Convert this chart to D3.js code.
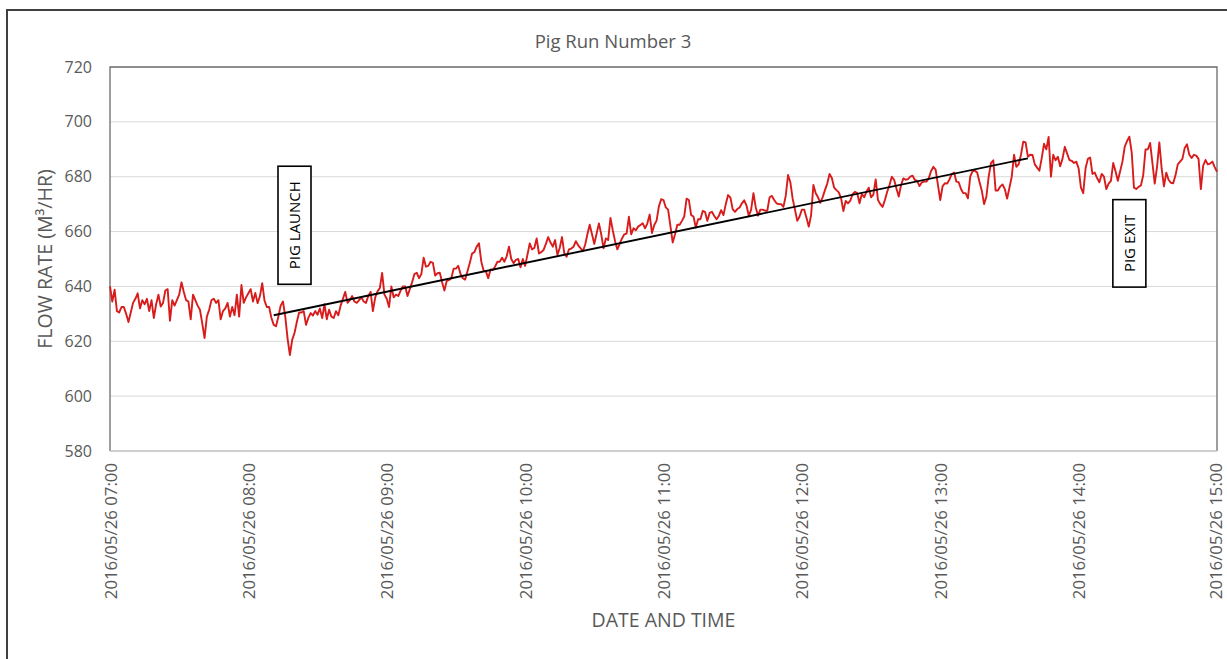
<!DOCTYPE html>
<html>
<head>
<meta charset="utf-8">
<script src="https://cdn.jsdelivr.net/npm/d3@7"></script>
<style>
  html, body { margin: 0; padding: 0; background: #ffffff; }
  svg { display: block; font-family: "Open Sans", "Liberation Sans", sans-serif; }
</style>
</head>
<body>
<svg id="chart" width="1227" height="659"></svg>
<script>
// ---- Chart data ----
const chartTitle = "Pig Run Number 3";
const xAxisTitle = "DATE AND TIME";
const yAxisTitle = "FLOW RATE (M³/HR)";

const startTime = "2016/05/26 07:00";
const endTime = "2016/05/26 15:00";
const sampleStepMinutes = 1;

const yTickValues = [580, 600, 620, 640, 660, 680, 700, 720];

// Flow rate (m³/hr), one reading per minute from 07:00 to 15:00
const flowRate = [
  640, 634.5, 638.8, 631, 630.5, 632.5, 632.5, 630, 627, 630.5,
  634, 635.5, 637.5, 632, 635, 633.5, 635.5, 631, 635, 628.5,
  633.5, 637, 632.7, 634, 638.5, 639, 627.5, 635, 633, 635,
  637, 641.5, 638, 635, 634.5, 628, 637, 635, 633, 631.5,
  626.5, 621.2, 629, 631.5, 635, 635.5, 634, 635, 628, 631,
  632, 634, 629, 632.5, 629.5, 637, 629, 640.5, 634, 636,
  637.5, 639, 634.5, 637.6, 633.9, 636.4, 641.2, 634.8, 632.5, 632.5,
  628.5, 626, 625.5, 629, 633, 634.5, 629, 621, 615, 620.5,
  623, 627, 630.5, 630.5, 631, 626, 628.5, 630.3, 629.4, 631,
  629.7, 632, 628.5, 633.5, 628, 631.5, 629, 628.5, 631, 629.5,
  633, 635.5, 638, 634, 635, 636.5, 634.5, 634, 635, 636,
  634.5, 634, 636.5, 638, 631, 636, 638.2, 639.4, 644.9, 637,
  635.5, 632.5, 640, 636, 637, 636.5, 638.5, 640, 640, 636.5,
  639, 641.5, 644.5, 645, 643, 644.5, 650.5, 647.2, 647.5, 649,
  648.6, 644, 644.8, 645, 641.5, 638.5, 642, 642.3, 643, 646.5,
  646.5, 647.5, 644.5, 643, 642.5, 645.5, 648.5, 652, 652.5, 654.5,
  655.7, 649, 645.8, 645.5, 643, 646.2, 646, 647.3, 649, 649,
  650.5, 649, 651, 654.5, 650, 648.5, 649.7, 650, 647, 650,
  647.5, 651.5, 655.7, 653.5, 654, 657.5, 652, 652.5, 653.3, 655.5,
  658, 656, 654.5, 656.9, 651.5, 654, 658, 652, 650.8, 653.5,
  653.8, 654.5, 656.5, 655, 654, 652.8, 655.1, 659, 662.5, 659,
  655.5, 659.3, 663, 659, 653.9, 657.5, 656.9, 665, 660.5, 656.5,
  653.5, 655.5, 657.5, 659, 659.3, 665.4, 659, 661.2, 660.5, 661.8,
  662.4, 663, 661.2, 663, 666.2, 659.5, 662.4, 664, 669.2, 671.8,
  671.5, 668.8, 668, 662, 656, 659, 662.5, 662.5, 663.9, 665.5,
  672, 671.5, 666, 665.5, 661.5, 664.5, 664.5, 667.5, 667.2, 663.9,
  666.8, 667.2, 665.7, 664.5, 665.7, 667.8, 666, 670, 673.3, 672.4,
  668.2, 667.2, 668.2, 668.8, 670.3, 671.4, 669.5, 665.7, 668, 674,
  668.8, 665.8, 668, 668, 667.6, 667.6, 672.5, 673, 671.5, 670.3,
  670, 670, 669, 673, 680.6, 678, 672, 668, 663.9, 665.5,
  668, 668, 665, 661.8, 666, 677, 674, 672.5, 670.5, 672.5,
  675.1, 677.5, 681, 679.5, 676, 675.1, 674.3, 672.2, 667.5, 671.2,
  670.3, 671.3, 673.6, 674.5, 674, 670.3, 673.7, 672.5, 674.5, 676,
  672.5, 673.5, 679, 671.5, 670, 669, 671.5, 674.5, 677, 680,
  678.9, 675.7, 672.8, 676.9, 679.4, 678.9, 679.1, 680, 680.4, 678.8,
  678.5, 676.6, 677.9, 678.2, 678.2, 679.4, 682, 683.6, 682.6, 677,
  671.5, 676.5, 677.6, 677.5, 679, 681, 681.5, 678.2, 678, 675.5,
  674, 674, 672.1, 680, 682, 682.2, 681.5, 678.2, 675, 670,
  672.7, 680, 685, 686, 675, 675, 676.4, 677.2, 675.5, 672,
  676, 680, 688, 683.6, 684.5, 688, 692.8, 692.5, 687.3, 688,
  687.9, 684.5, 683.3, 682.2, 686.8, 692, 690, 694.5, 680, 688,
  686, 687.3, 683.8, 686.5, 690.9, 688.5, 686.1, 685.8, 685, 685.5,
  683, 676, 674, 683, 686.5, 687, 681, 681.5, 679.5, 678,
  681, 680, 675.5, 677.5, 678.5, 685, 682, 678.5, 682, 685.5,
  691, 693, 694.6, 689, 676, 675.5, 676.3, 676.8, 680.5, 689.9,
  690, 692.3, 685, 677.5, 683.6, 692.5, 683, 676.5, 681.5, 678.9,
  677.8, 677.6, 680.5, 684.5, 685.5, 686.5, 690.5, 691.8, 688, 686.8,
  688, 687.7, 686.5, 675.5, 684, 686.1, 684.5, 684.8, 685.5, 683.5, 681.8
];

// Straight trend line drawn across the pig run
const trendTimes = ["2016/05/26 08:11", "2016/05/26 13:38"];
const trendValues = [629.5, 686.7];

// Event call-outs (anchored at a time and flow level)
const noteLabels = ["PIG LAUNCH", "PIG EXIT"];
const noteTimes = ["2016/05/26 08:20", "2016/05/26 14:22"];
const noteValues = [662.3, 655.7];

// ---- Drawing ----
const parseTime = d3.timeParse("%Y/%m/%d %H:%M");
const formatTick = d3.timeFormat("%Y/%m/%d %H:%M");

const width = 1227, height = 659;
const plot = { left: 110, right: 1217, top: 67, bottom: 451 };
const textColor = "#595959";

const svg = d3.select("#chart");

svg.append("rect")
  .attr("width", width).attr("height", height)
  .attr("fill", "#ffffff");

// chart frame
svg.append("path")
  .attr("d", `M7,${height} V10 H${width}`)
  .attr("fill", "none")
  .attr("stroke", "#404040")
  .attr("stroke-width", 2);

const t0 = parseTime(startTime);
const t1 = parseTime(endTime);

const x = d3.scaleTime().domain([t0, t1]).range([plot.left, plot.right]);
const y = d3.scaleLinear().domain([580, 720]).range([plot.bottom, plot.top]);

const series = flowRate.map((v, i) => ({
  time: d3.timeMinute.offset(t0, i * sampleStepMinutes),
  value: v
}));

// horizontal gridlines
svg.append("g")
  .selectAll("line")
  .data(yTickValues.filter(v => v !== 580 && v !== 720))
  .join("line")
  .attr("x1", plot.left).attr("x2", plot.right)
  .attr("y1", d => y(d)).attr("y2", d => y(d))
  .attr("stroke", "#d9d9d9")
  .attr("stroke-width", 1);

// plot border
svg.append("path")
  .attr("d", `M${plot.left},${plot.bottom} V${plot.top} H${plot.right} V${plot.bottom}`)
  .attr("fill", "none")
  .attr("stroke", "#6b6b6b")
  .attr("stroke-width", 1.3);

svg.append("line")
  .attr("x1", plot.left).attr("x2", plot.right)
  .attr("y1", plot.bottom).attr("y2", plot.bottom)
  .attr("stroke", "#bfbfbf")
  .attr("stroke-width", 1.3);

// y axis labels
const yAxis = svg.append("g")
  .attr("transform", `translate(${plot.left},0)`)
  .call(d3.axisLeft(y).tickValues(yTickValues).tickSize(0).tickPadding(18).tickFormat(d3.format("d")));
yAxis.select(".domain").remove();
yAxis.selectAll("text")
  .attr("fill", textColor)
  .style("font-size", "16px")
  .style("font-family", '"Open Sans", sans-serif');

// x axis labels (vertical)
const xAxis = svg.append("g")
  .attr("transform", `translate(0,${plot.bottom})`)
  .call(d3.axisBottom(x).ticks(d3.timeHour.every(1)).tickSize(0).tickFormat(formatTick));
xAxis.select(".domain").remove();
const xLabels = xAxis.selectAll("text");
const lastIndex = xLabels.size() - 1;
xLabels
  .attr("transform", "rotate(-90)")
  .attr("x", -12)
  // keep the right-most label inside the canvas edge
  .attr("y", (d, i) => (i === lastIndex ? -2 : 0))
  .attr("dy", "0.36em")
  .style("text-anchor", "end")
  .attr("fill", textColor)
  .style("font-size", "16.8px")
  .style("font-family", '"Open Sans", sans-serif');

// flow rate line
const line = d3.line()
  .x(d => x(d.time))
  .y(d => y(d.value));

svg.append("path")
  .datum(series)
  .attr("d", line)
  .attr("fill", "none")
  .attr("stroke", "#d81c1c")
  .attr("stroke-width", 1.9)
  .attr("stroke-linejoin", "round");

// trend line
const trend = trendTimes.map((t, i) => ({ time: parseTime(t), value: trendValues[i] }));
svg.append("path")
  .datum(trend)
  .attr("d", line)
  .attr("fill", "none")
  .attr("stroke", "#000000")
  .attr("stroke-width", 1.9);

// call-out boxes
const notes = svg.append("g")
  .selectAll("g")
  .data(noteLabels.map((label, i) => ({ label, time: parseTime(noteTimes[i]), value: noteValues[i] })))
  .join("g")
  .attr("transform", d => `translate(${x(d.time)},${y(d.value)})`);

notes.each(function (d) {
  const g = d3.select(this);
  const rect = g.append("rect")
    .attr("fill", "#ffffff")
    .attr("stroke", "#000000")
    .attr("stroke-width", 1.6);
  const txt = g.append("text")
    .attr("transform", "rotate(-90)")
    .attr("text-anchor", "middle")
    .attr("dy", "0.36em")
    .attr("fill", "#000000")
    .style("font-size", "15px")
    .text(d.label);
  const len = txt.node().getComputedTextLength();
  const h = len + 30, w = 33;
  rect.attr("x", -w / 2).attr("y", -h / 2).attr("width", w).attr("height", h);
});

// titles
svg.append("text")
  .attr("x", 613).attr("y", 43)
  .attr("text-anchor", "middle")
  .attr("dominant-baseline", "middle")
  .attr("fill", textColor)
  .style("font-size", "18.5px")
  .text(chartTitle);

svg.append("text")
  .attr("transform", `translate(47,${(plot.top + plot.bottom) / 2}) rotate(-90)`)
  .attr("text-anchor", "middle")
  .attr("dominant-baseline", "middle")
  .attr("fill", textColor)
  .style("font-size", "19.6px")
  .text(yAxisTitle);

svg.append("text")
  .attr("x", (plot.left + plot.right) / 2).attr("y", 622)
  .attr("text-anchor", "middle")
  .attr("dominant-baseline", "middle")
  .attr("fill", textColor)
  .style("font-size", "19.5px")
  .text(xAxisTitle);
</script>
</body>
</html>
